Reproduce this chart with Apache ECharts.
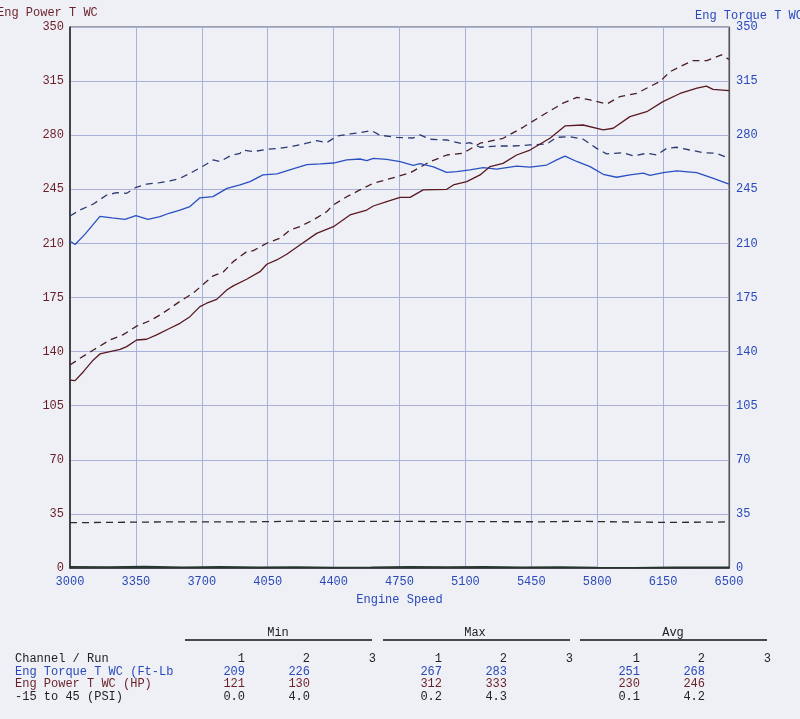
<!DOCTYPE html>
<html>
<head>
<meta charset="utf-8">
<script src="https://cdn.jsdelivr.net/npm/echarts@6/dist/echarts.min.js"></script>
<style>
  html, body { margin: 0; padding: 0; background: #eef0f6; }
  #chart { width: 800px; height: 719px; }
</style>
</head>
<body>
<div id="chart"></div>
<script>
// engine speed axis ticks
var rpmTicks = [3000, 3350, 3700, 4050, 4400, 4750, 5100, 5450, 5800, 6150, 6500];
var valueTicks = [0, 35, 70, 105, 140, 175, 210, 245, 280, 315, 350];

// run 1 / run 2, [rpm, value]
var torqueRun1 = [[3000,211.5],[3027,209.3],[3080,216],[3159,227.5],[3223,226.5],[3292,225.6],[3350,228],[3414,225.6],[3478,227.3],[3526,229.5],[3584,231.6],[3637,233.8],[3690,239.5],[3759,240.3],[3834,245.6],[3903,247.8],[3956,250],[4025,254.3],[4099,255],[4184,258.2],[4258,261],[4330,261.5],[4399,262],[4470,264],[4540,264.6],[4576,263.5],[4611,265],[4682,264.4],[4753,262.9],[4823,260.5],[4859,261.6],[4930,259.5],[5000,256],[5054,256.5],[5124,257.5],[5195,259],[5266,258],[5372,260],[5443,259.3],[5532,260.7],[5585,264],[5629,266.5],[5691,263],[5762,259.7],[5832,254.7],[5903,252.8],[5974,254.3],[6045,255.4],[6080,254],[6151,255.8],[6222,256.9],[6328,255.8],[6417,252.1],[6500,248.4]];
var torqueRun2 = [[3000,227.7],[3053,231.6],[3124,235.5],[3195,241.3],[3248,242.8],[3301,242.4],[3351,246.3],[3407,248.4],[3478,249.3],[3531,250.4],[3584,252.1],[3655,256.5],[3708,260.1],[3761,264],[3797,262.9],[3850,266.6],[3903,268.3],[3920,270.4],[3974,269.4],[4045,270.9],[4115,271.5],[4186,273],[4257,274.8],[4310,276.5],[4363,275.2],[4420,279.5],[4487,280.8],[4540,281.7],[4600,283],[4646,280],[4735,278.6],[4823,278.2],[4859,280.2],[4912,277.4],[5001,276.9],[5089,274.3],[5124,275.2],[5178,272.2],[5266,273],[5354,273],[5443,273.7],[5532,274.3],[5585,278.6],[5656,279],[5726,277.4],[5797,271.5],[5850,267.9],[5939,268.7],[5992,266.6],[6063,268.3],[6116,267.2],[6169,271.5],[6222,272.2],[6293,270.4],[6364,268.7],[6434,268.3],[6500,265]];
var powerRun1 = [[3000,121.6],[3027,121.2],[3071,127],[3124,134.6],[3159,138.5],[3212,140],[3266,141.5],[3301,143.2],[3354,147.5],[3407,148],[3460,150.8],[3531,155.1],[3584,158.3],[3637,162.6],[3690,169.1],[3726,171.3],[3779,173.8],[3834,180],[3867,182.5],[3938,186.8],[4009,191.7],[4045,196.5],[4098,199.3],[4151,203],[4221,209],[4310,216.5],[4399,220.8],[4487,228.4],[4576,231.6],[4611,234.2],[4682,237],[4753,239.8],[4806,239.8],[4876,244.6],[5001,245],[5036,247.8],[5107,250],[5178,254.3],[5231,259.7],[5300,261.8],[5372,267.2],[5443,270.4],[5549,278],[5629,286],[5725,286.6],[5832,283.4],[5885,284.5],[5974,292],[6063,295.2],[6149,301.7],[6240,307],[6330,310.5],[6380,311.8],[6415,309.7],[6500,308.8]];
var powerRun2 = [[3000,131.3],[3053,135.7],[3124,141],[3212,147.5],[3283,151],[3354,156.5],[3425,160],[3478,163.7],[3531,168],[3584,172.5],[3655,178],[3708,183.5],[3761,189],[3814,191.5],[3867,198.2],[3938,204.6],[3974,205.3],[4045,210.1],[4115,213.3],[4168,218.7],[4221,220.8],[4292,225.2],[4363,230.5],[4398,234.9],[4470,240.2],[4540,244.6],[4611,248.9],[4737,253.2],[4806,255.6],[4912,262.9],[5002,267.2],[5087,268.3],[5178,274.8],[5300,278],[5406,285.1],[5512,293.1],[5618,300.7],[5693,304.5],[5762,302.8],[5852,300.2],[5921,305],[6011,307.1],[6080,311.5],[6133,314.7],[6187,321.1],[6240,324.4],[6309,328.3],[6383,328.3],[6460,332],[6500,329]];
var boostRun1 = [[3000,0.8],[3200,0.6],[3400,0.9],[3600,0.5],[3800,0.7],[4000,0.4],[4200,0.6],[4400,0.3],[4600,0.5],[4800,0.8],[5000,0.6],[5200,0.7],[5400,0.5],[5600,0.6],[5800,0.3],[6000,0.2],[6200,0.4],[6500,0.5]];
var boostRun2 = [[3000,29.3],[3300,29.6],[3500,29.8],[4000,29.9],[4200,30.3],[4400,30.1],[4700,30.2],[5000,30],[5500,29.9],[5700,30.2],[6000,29.7],[6200,29.5],[6500,29.8]];

// summary table
var channels = ['Eng Torque T WC (Ft-Lb', 'Eng Power T WC (HP)', '-15 to 45 (PSI)'];
var minRun1 = ['209', '121', '0.0'];
var minRun2 = ['226', '130', '4.0'];
var maxRun1 = ['267', '312', '0.2'];
var maxRun2 = ['283', '333', '4.3'];
var avgRun1 = ['251', '230', '0.1'];
var avgRun2 = ['268', '246', '4.2'];

var BLUE = '#2a49b8';
var MAROON = '#6a1f27';
var INK = '#222';
var FONT = '"Liberation Mono", "DejaVu Sans Mono", monospace';
var rowColors = [BLUE, MAROON, INK];

var chart = echarts.init(document.getElementById('chart'));

function txt(x, y, s, color, align) {
  return {
    type: 'text', x: x, y: y,
    style: { text: s, fill: color, font: '12px ' + FONT, textAlign: align || 'left', textVerticalAlign: 'middle' }
  };
}
function rule(x1, x2, y) {
  return { type: 'line', shape: { x1: x1, y1: y, x2: x2, y2: y }, style: { stroke: '#111', lineWidth: 1.5 } };
}

var graphics = [
  txt(-3, 13, 'Eng Power T WC', MAROON),
  txt(695, 16, 'Eng Torque T WC', BLUE),
  txt(278, 633, 'Min', INK, 'center'), rule(185, 372, 640),
  txt(475, 633, 'Max', INK, 'center'), rule(383, 570, 640),
  txt(673, 633, 'Avg', INK, 'center'), rule(580, 767, 640),
  txt(15, 659, 'Channel / Run', INK)
];
// run numbers under each group
[[245, 310, 376], [442, 507, 573], [640, 705, 771]].forEach(function (cols) {
  ['1', '2', '3'].forEach(function (n, i) { graphics.push(txt(cols[i], 659, n, INK, 'right')); });
});
var rowY = [672, 684, 697];
channels.forEach(function (name, r) {
  var c = rowColors[r];
  graphics.push(txt(15, rowY[r], name, c));
  graphics.push(txt(245, rowY[r], minRun1[r], c, 'right'));
  graphics.push(txt(310, rowY[r], minRun2[r], c, 'right'));
  graphics.push(txt(442, rowY[r], maxRun1[r], c, 'right'));
  graphics.push(txt(507, rowY[r], maxRun2[r], c, 'right'));
  graphics.push(txt(640, rowY[r], avgRun1[r], c, 'right'));
  graphics.push(txt(705, rowY[r], avgRun2[r], c, 'right'));
});

function line(name, data, color, dashed, yIdx, width) {
  return {
    name: name, type: 'line', data: data, yAxisIndex: yIdx,
    showSymbol: false, symbol: 'none', animation: false,
    lineStyle: { color: color, width: width || 1.3, type: dashed ? [7, 5] : 'solid' },
    z: 3
  };
}

chart.setOption({
  backgroundColor: '#eef0f6',
  textStyle: { fontFamily: FONT },
  animation: false,
  grid: {
    left: 70, right: 71, top: 27, bottom: 151,
    show: true, borderColor: '#555', borderWidth: 1, backgroundColor: 'transparent'
  },
  xAxis: {
    type: 'value', min: rpmTicks[0], max: rpmTicks[rpmTicks.length - 1], interval: 350,
    name: 'Engine Speed', nameLocation: 'middle', nameGap: 26,
    nameTextStyle: { color: BLUE, fontSize: 12, fontFamily: FONT },
    axisLine: { lineStyle: { color: '#222', width: 1.5 } },
    axisTick: { show: false },
    axisLabel: { color: BLUE, fontSize: 12, fontFamily: FONT, margin: 8, formatter: function (v) { return String(v); } },
    splitLine: { lineStyle: { color: '#a9b1d8', width: 1 } }
  },
  yAxis: [{
    type: 'value', min: valueTicks[0], max: valueTicks[valueTicks.length - 1], interval: 35, position: 'left',
    axisLine: { show: true, lineStyle: { color: '#222', width: 1.5 } },
    axisTick: { show: false },
    axisLabel: { color: MAROON, fontSize: 12, fontFamily: FONT, margin: 6 },
    splitLine: { lineStyle: { color: '#a9b1d8', width: 1 } }
  }, {
    type: 'value', min: valueTicks[0], max: valueTicks[valueTicks.length - 1], interval: 35, position: 'right',
    axisLine: { show: true, lineStyle: { color: '#555', width: 1.2 } },
    axisTick: { show: false },
    axisLabel: { color: BLUE, fontSize: 12, fontFamily: FONT, margin: 7 },
    splitLine: { show: false }
  }],
  graphic: graphics,
  series: [
    line('-15 to 45 (PSI) 2', boostRun2, '#2a2a2a', true, 0),
    line('-15 to 45 (PSI) 1', boostRun1, '#23352c', false, 0, 1.6),
    line('Eng Torque T WC 2', torqueRun2, '#2b3a72', true, 1),
    line('Eng Power T WC 2', powerRun2, '#4a1c22', true, 0),
    line('Eng Torque T WC 1', torqueRun1, '#2a50c2', false, 1),
    line('Eng Power T WC 1', powerRun1, '#5a1820', false, 0)
  ]
});
</script>
</body>
</html>
